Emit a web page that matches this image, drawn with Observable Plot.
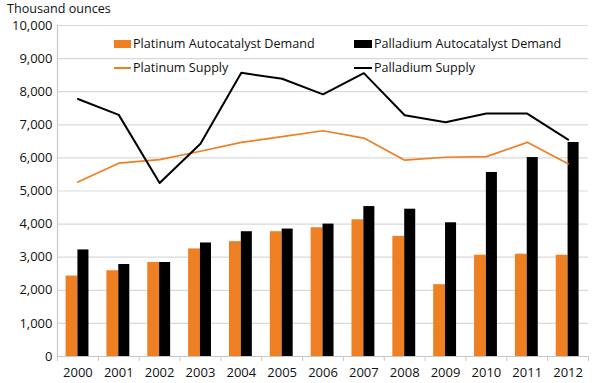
<!DOCTYPE html>
<html>
<head>
<meta charset="utf-8">
<script src="https://cdn.jsdelivr.net/npm/d3@7"></script>
<script src="https://cdn.jsdelivr.net/npm/@observablehq/plot@0.6"></script>
<style>
  html, body { margin: 0; padding: 0; background: white; }
  #wrap { position: relative; width: 597px; height: 383px; font-family: "Open Sans", sans-serif; color: #111; }
  .lbl { position: absolute; font-size: 12.6px; white-space: nowrap; line-height: 14px; }
  .sw { position: absolute; }
</style>
</head>
<body>
<div id="wrap"></div>
<script>
const years = [2000, 2001, 2002, 2003, 2004, 2005, 2006, 2007, 2008, 2009, 2010, 2011, 2012];
const platinumDemand = [2430, 2590, 2840, 3250, 3470, 3770, 3890, 4130, 3630, 2170, 3060, 3090, 3060];
const palladiumDemand = [3220, 2780, 2840, 3430, 3770, 3850, 4000, 4530, 4450, 4040, 5560, 6010, 6465];
const platinumSupply = [5270, 5840, 5950, 6200, 6470, 6640, 6820, 6600, 5930, 6020, 6040, 6470, 5820];
const palladiumSupply = [7780, 7300, 5240, 6430, 8570, 8390, 7920, 8560, 7290, 7080, 7340, 7340, 6550];
const yTicks = [0, 1000, 2000, 3000, 4000, 5000, 6000, 7000, 8000, 9000, 10000];
const seriesNames = ["Platinum Autocatalyst Demand", "Palladium Autocatalyst Demand", "Platinum Supply", "Palladium Supply"];
const unitLabel = "Thousand ounces";

const orange = "#EE7F22";
const rows = years.map((year, i) => ({
  year, pt: platinumDemand[i], pd: palladiumDemand[i], ptS: platinumSupply[i], pdS: palladiumSupply[i]
}));
const boundaries = years.map(y => y - 0.5).concat([years[years.length - 1] + 0.5]);

const chart = Plot.plot({
  width: 597,
  height: 383,
  marginTop: 25,
  marginBottom: 27,
  marginLeft: 57,
  marginRight: 9,
  style: { fontFamily: "Open Sans, sans-serif", fontSize: "12.6px", color: "#111", background: "white" },
  x: { type: "linear", domain: [years[0] - 0.5, years[years.length - 1] + 0.5] },
  y: { domain: [0, 10000] },
  marks: [
    Plot.gridY(yTicks, { stroke: "#d9d9d9", strokeOpacity: 1, strokeWidth: 1.2 }),
    Plot.rectY(rows, { x1: d => d.year - 0.29, x2: "year", y: "pt", fill: orange }),
    Plot.rectY(rows, { x1: "year", x2: d => d.year + 0.27, y: "pd", fill: "black" }),
    Plot.lineY(rows, { x: "year", y: "ptS", stroke: orange, strokeWidth: 1.7 }),
    Plot.lineY(rows, { x: "year", y: "pdS", stroke: "black", strokeWidth: 2 }),
    Plot.ruleX([years[0] - 0.5], { stroke: "#c8c8c8", strokeWidth: 1.2 }),
    Plot.ruleY([0], { stroke: "#c8c8c8", strokeWidth: 1.2 }),
    Plot.axisY({ ticks: yTicks, tickSize: 0, tickPadding: 5, tickFormat: d3.format(","), label: null, fill: "#111", fontSize: 13 }),
    Plot.axisX({ ticks: boundaries, tickSize: 5, tickFormat: () => "", label: null, stroke: "#c8c8c8" }),
    Plot.axisX({ ticks: years, tickSize: 0, tickPadding: 11, tickFormat: d => String(d), label: null, fill: "#111", fontSize: 13 })
  ]
});

const wrap = document.getElementById("wrap");
wrap.appendChild(chart);

function add(html) { wrap.insertAdjacentHTML("beforeend", html); }
add(`<div class="lbl" style="left:7px;top:2px;line-height:13px;">${unitLabel}</div>`);
// legend
add(`<div class="sw" style="left:114px;top:40px;width:17px;height:8px;background:${orange}"></div>`);
add(`<div class="lbl" style="left:133px;top:37px;">${seriesNames[0]}</div>`);
add(`<div class="sw" style="left:354px;top:40px;width:18px;height:8px;background:black"></div>`);
add(`<div class="lbl" style="left:374px;top:37px;">${seriesNames[1]}</div>`);
add(`<div class="sw" style="left:114px;top:67px;width:17px;height:2px;background:${orange}"></div>`);
add(`<div class="lbl" style="left:133px;top:61px;">${seriesNames[2]}</div>`);
add(`<div class="sw" style="left:354px;top:67px;width:18px;height:2px;background:black"></div>`);
add(`<div class="lbl" style="left:374px;top:61px;">${seriesNames[3]}</div>`);
</script>
</body>
</html>
